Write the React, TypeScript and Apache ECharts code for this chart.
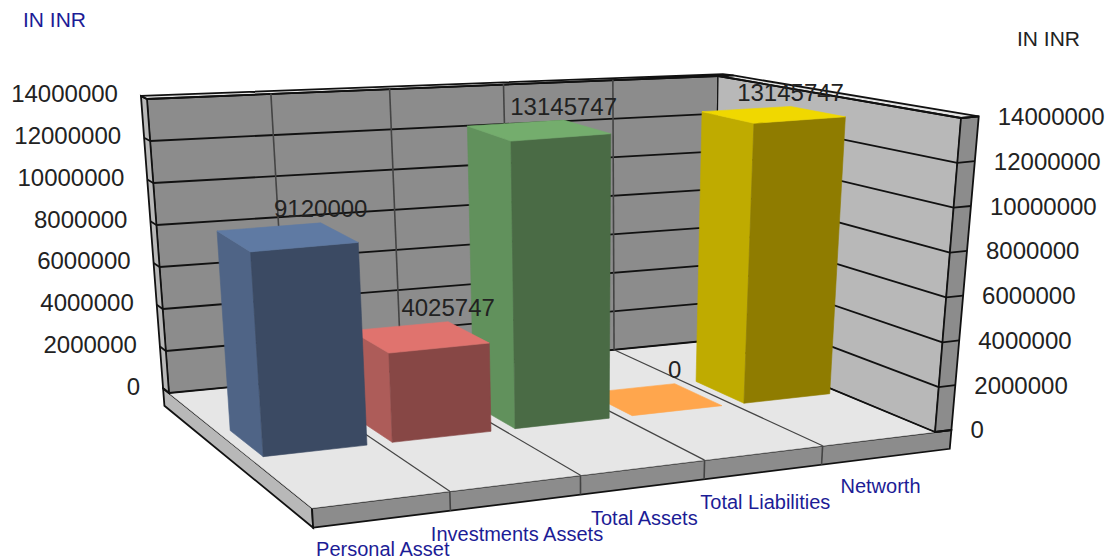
import React, { useEffect, useRef } from "react";
import * as echarts from "echarts";

const categories = ["Personal Asset", "Investments Assets", "Total Assets", "Total Liabilities", "Networth"];
const values = [9120000, 4025747, 13145747, 0, 13145747];
const yTicks = [0, 2000000, 4000000, 6000000, 8000000, 10000000, 12000000, 14000000];
const frontColors = ["#3b4a63", "#874745", "#4a6b45", "#cc8533", "#8f7c00"];
const sideColors = ["#4f6486", "#ad5c59", "#61915c", "#e6953f", "#bfab00"];
const topColors = ["#5f7aa3", "#e0736e", "#74ad6d", "#ffa64d", "#f0d800"];

const FONT = '"Liberation Sans", Arial, sans-serif';
type Pt = [number, number];

// unit square -> quadrilateral (perspective)
function makeHomography(p00: Pt, p10: Pt, p11: Pt, p01: Pt) {
  const [x0, y0] = p00, [x1, y1] = p10, [x2, y2] = p11, [x3, y3] = p01;
  const dx1 = x1 - x2, dx2 = x3 - x2, sx = x0 - x1 + x2 - x3;
  const dy1 = y1 - y2, dy2 = y3 - y2, sy = y0 - y1 + y2 - y3;
  const d = dx1 * dy2 - dx2 * dy1;
  const g = (sx * dy2 - dx2 * sy) / d;
  const h = (dx1 * sy - sx * dy1) / d;
  const a = x1 - x0 + g * x1, b = x3 - x0 + h * x3, c = x0;
  const e = y1 - y0 + g * y1, f = y3 - y0 + h * y3, k = y0;
  return (u: number, v: number): Pt => {
    const w = g * u + h * v + 1;
    return [(a * u + b * v + c) / w, (e * u + f * v + k) / w];
  };
}
const floorAt = makeHomography([312, 508], [935, 432], [714, 340], [169, 393]);
// full-height vector at each floor corner (front-left, front-right, back-right, back-left)
const riseD: Pt = [-19, -328];
const riseC: Pt = [26, -314];
const riseB: Pt = [4, -264];
const riseA: Pt = [-22, -294];
const P = (u: number, v: number, h: number): Pt => {
  const a = floorAt(u, v);
  const mix = (k: 0 | 1) =>
    (1 - u) * (1 - v) * riseD[k] + u * (1 - v) * riseC[k] + u * v * riseB[k] + (1 - u) * v * riseA[k];
  return [a[0] + mix(0) * h, a[1] + mix(1) * h];
};

const WALL_T = 0.05, WALL_S = 0.03, SLAB = -0.06;
const BAR_GAP = 0.1, BAR_V0 = 0.39, BAR_V1 = 0.62;
const n = categories.length;

const poly = (pts: Pt[], fill: string, stroke?: string, lineWidth = 1) => ({
  type: "polygon",
  shape: { points: pts },
  style: { fill, stroke: stroke ?? fill, lineWidth: stroke ? lineWidth : 0.6 },
});
const seg = (a: Pt, b: Pt, stroke: string, lineWidth: number) => ({
  type: "line",
  shape: { x1: a[0], y1: a[1], x2: b[0], y2: b[1] },
  style: { stroke, lineWidth },
});
const heightOf = (api: any, params: any, value: number) => {
  const cs = params.coordSys;
  return (cs.y + cs.height - api.coord([0, value])[1]) / cs.height;
};

function renderBox(params: any, api: any) {
  const U = 1 + WALL_S, V = 1 + WALL_T, edge = "#111111";
  const kids: any[] = [
    poly([P(0, 0, SLAB), P(0, V, SLAB), P(0, V, 0), P(0, 0, 0)], "#b8b8b8", edge, 1.8),
    poly([P(0, 0, SLAB), P(U, 0, SLAB), P(U, 0, 0), P(0, 0, 0)], "#8c8c8c", edge, 1.8),
    poly([P(0, 0, 0), P(U, 0, 0), P(U, V, 0), P(0, V, 0)], "#e6e6e6"),
    poly([P(0, 1, 0), P(1, 1, 0), P(1, 1, 1), P(0, 1, 1)], "#8c8c8c", edge, 1.2),
    poly([P(1, 1, 0), P(1, 0, 0), P(1, 0, 1), P(1, 1, 1)], "#b8b8b8", edge, 1.2),
    poly([P(0, 1, 0), P(0, V, 0), P(0, V, 1), P(0, 1, 1)], "#b8b8b8", edge, 1.8),
    poly([P(1, 0, 0), P(U, 0, 0), P(U, 0, 1), P(1, 0, 1)], "#8c8c8c", edge, 1.8),
    poly([P(0, 1, 1), P(1, 1, 1), P(U, 1, 1), P(U, V, 1), P(0, V, 1)], "#e6e6e6", edge, 1.8),
    poly([P(1, 0, 1), P(U, 0, 1), P(U, 1, 1), P(1, 1, 1)], "#e6e6e6", edge, 1.8),
  ];
  yTicks.forEach((t) => {
    const h = heightOf(api, params, t);
    kids.push(seg(P(0, V, h), P(0, 1, h), edge, 1.8));
    kids.push(seg(P(0, 1, h), P(1, 1, h), edge, 1.8));
    kids.push(seg(P(1, 1, h), P(1, 0, h), edge, 1.8));
    kids.push(seg(P(1, 0, h), P(U, 0, h), edge, 1.8));
  });
  for (let i = 1; i < n; i++) {
    const u = i / n;
    kids.push(seg(P(u, 1, 0), P(u, 1, 1), "#444444", 1.6));
    kids.push(seg(P(u, 0, 0), P(u, 1, 0), "#444444", 1.2));
    kids.push(seg(P(u, 0, SLAB), P(u, 0, 0), "#444444", 1.6));
  }
  return { type: "group", children: kids };
}

function renderBar(params: any, api: any) {
  const i = api.value(0), h = heightOf(api, params, api.value(1));
  const cs = params.coordSys;
  const uc = (api.coord([i, 0])[0] - cs.x) / cs.width;
  const half = (1 / n) * (0.5 - BAR_GAP);
  const u0 = uc - half, u1 = uc + half;
  const children: any[] = [];
  if (h > 0) {
    children.push(poly([P(u0, BAR_V0, 0), P(u0, BAR_V1, 0), P(u0, BAR_V1, h), P(u0, BAR_V0, h)], sideColors[i]));
    children.push(poly([P(u0, BAR_V0, 0), P(u1, BAR_V0, 0), P(u1, BAR_V0, h), P(u0, BAR_V0, h)], frontColors[i]));
  }
  children.push(poly([P(u0, BAR_V0, h), P(u1, BAR_V0, h), P(u1, BAR_V1, h), P(u0, BAR_V1, h)], topColors[i]));
  return { type: "group", children };
}

const text = (str: string, x: number, y: number, fill: string, size: number, align: string) => ({
  type: "text",
  x,
  y,
  style: { text: str, fill, fontSize: size, fontFamily: FONT, align, verticalAlign: "middle" },
});

function renderBarLabel(params: any, api: any) {
  const i = api.value(0), v = api.value(1), h = heightOf(api, params, v);
  const cs = params.coordSys;
  const uc = (api.coord([i, 0])[0] - cs.x) / cs.width;
  const half = (1 / n) * (0.5 - BAR_GAP);
  const p = P(uc + half, BAR_V1, h);
  return text(String(v), p[0], p[1] - 14, "#222222", 24, "center");
}

function renderValueTick(params: any, api: any) {
  const v = api.value(1), h = heightOf(api, params, v);
  const l = P(0, 1 + WALL_T, h), r = P(1 + WALL_S, 0, h);
  return {
    type: "group",
    children: [
      text(String(v), l[0] - 23, l[1] - 2, "#222222", 24, "right"),
      text(String(v), r[0] + 19, r[1], "#222222", 24, "left"),
    ],
  };
}

function renderCategory(params: any, api: any) {
  const i = api.value(0);
  const cs = params.coordSys;
  const uc = (api.coord([i, 0])[0] - cs.x) / cs.width;
  const p = P(uc, 0, 0);
  return text(categories[i], p[0] + 1, Math.min(p[1] + 53 - 6 * uc, 549), "#1c1c96", 20, "center");
}

export default function App() {
  const ref = useRef<HTMLDivElement>(null);
  useEffect(() => {
    const chart = echarts.init(ref.current!, undefined, { renderer: "svg" });
    chart.setOption({
      animation: false,
      backgroundColor: "#ffffff",
      title: [
        { text: "IN INR", left: 18, top: 4, textStyle: { color: "#1c1c96", fontSize: 21, fontWeight: "normal", fontFamily: FONT } },
        { text: "IN INR", left: 1012, top: 23, textStyle: { color: "#222222", fontSize: 21, fontWeight: "normal", fontFamily: FONT } },
      ],
      grid: { left: 100, top: 100, width: 500, height: 300 },
      xAxis: { type: "category", data: categories, show: false },
      yAxis: { type: "value", min: 0, max: 14000000, interval: 2000000, show: false },
      series: [
        { type: "custom", z: 1, silent: true, data: [[0, 0]], renderItem: renderBox },
        {
          type: "custom",
          z: 2,
          silent: true,
          data: values.map((v, i) => [i, v]).reverse(),
          renderItem: renderBar,
        },
        { type: "custom", z: 3, silent: true, data: values.map((v, i) => [i, v]), renderItem: renderBarLabel },
        { type: "custom", z: 3, silent: true, data: yTicks.map((t) => [0, t]), renderItem: renderValueTick },
        { type: "custom", z: 3, silent: true, data: categories.map((_, i) => [i, 0]), renderItem: renderCategory },
      ],
    });
    return () => chart.dispose();
  }, []);
  return <div ref={ref} style={{ position: "fixed", left: 0, top: 0, width: 1112, height: 560 }} />;
}
